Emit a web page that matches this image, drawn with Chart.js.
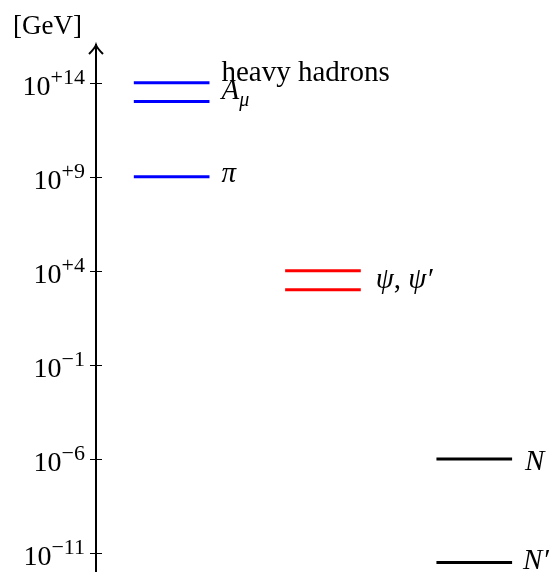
<!DOCTYPE html>
<html>
<head>
<meta charset="utf-8">
<script src="https://cdn.jsdelivr.net/npm/chart.js@4"></script>
<style>
  body { margin: 0; background: #fff; }
</style>
</head>
<body>
<canvas id="levels" width="559" height="572"></canvas>
<script>
// Mass levels (GeV)
const levelNames = ['heavy hadrons', 'A_mu', 'pi', 'psi', 'psi prime', 'N', 'N prime'];
const levelMasses = [1e14, 1e13, 1e9, 1e4, 1e3, 1e-6, 3.2e-12];
const levelColumns = [0, 0, 0, 1, 1, 2, 2];
const columnColors = ['#0000ff', '#ff0000', '#000000'];
const tickExponents = [14, 9, 4, -1, -6, -11];

const FONT = '"Liberation Serif", "Times New Roman", serif';

// label text, drawn right of the segments (parts: [text, style])
const labels = [
    { at: [0], dx: 12, dy: -2, parts: [['heavy hadrons', 'rm']] },
    { at: [1], dx: 12, dy: -2, parts: [['A', 'it'], ['\u03bc', 'sub']] },
    { at: [2], dx: 12, dy: 5, parts: [['\u03c0', 'it']] },
    { at: [3, 4], dx: 15, dy: 8, parts: [['\u03c8', 'it'], [', ', 'rm'], ['\u03c8\u2032', 'it']] },
    { at: [5], dx: 13, dy: 11, parts: [['N', 'it']] },
    { at: [6], dx: 11, dy: 7, parts: [['N\u2032', 'it']] }
];

const datasets = levelNames.map((name, i) => ({
    label: name,
    data: [
        { x: levelColumns[i] + 0.25, y: levelMasses[i] },
        { x: levelColumns[i] + 0.75, y: levelMasses[i] }
    ],
    showLine: true,
    borderColor: columnColors[levelColumns[i]],
    borderWidth: 3,
    pointRadius: 0
}));

function drawParts(ctx, parts, x, y, size) {
    size = size || 29;
    parts.forEach(([txt, style]) => {
        let s = size, yy = y;
        let face = style === 'rm' ? '' : 'italic ';
        if (style === 'sub') { s = 20; yy = y + 7; }
        if (style === 'sup') { s = 22; yy = y - 11; face = ''; }
        ctx.font = face + s + 'px ' + FONT;
        ctx.fillText(txt, x, yy);
        x += ctx.measureText(txt).width;
    });
}

const decorations = {
    id: 'decorations',
    afterDraw(chart) {
        const ctx = chart.ctx;
        const ys = chart.scales.y, xs = chart.scales.x;
        const axisX = chart.chartArea.left;
        ctx.save();
        ctx.fillStyle = '#000';
        ctx.strokeStyle = '#000';
        ctx.textBaseline = 'alphabetic';

        // arrow head on top of the axis
        const top = chart.chartArea.top;
        ctx.lineWidth = 2;
        ctx.beginPath();
        ctx.moveTo(axisX - 7, top + 9);
        ctx.quadraticCurveTo(axisX - 1, top + 3, axisX, top);
        ctx.quadraticCurveTo(axisX + 1, top + 3, axisX + 7, top + 9);
        ctx.stroke();

        // tick marks and labels
        ctx.lineWidth = 1;
        tickExponents.forEach(e => {
            const y = Math.round(ys.getPixelForValue(Math.pow(10, e))) + 0.5;
            ctx.beginPath();
            ctx.moveTo(axisX - 6, y);
            ctx.lineTo(axisX + 6, y);
            ctx.stroke();
            const exp = (e >= 0 ? '+' : '\u2212') + Math.abs(e);
            ctx.font = '22px ' + FONT;
            const ew = ctx.measureText(exp).width;
            ctx.font = '28px ' + FONT;
            const bw = ctx.measureText('10').width;
            const right = axisX - 10;
            drawParts(ctx, [['10', 'rm'], [exp, 'sup']], right - ew - bw - 1, y + 11, 28);
        });

        // unit
        ctx.font = '27px ' + FONT;
        ctx.fillText('[GeV]', 13, 34);

        // level labels
        labels.forEach(l => {
            const ymid = l.at.map(i => ys.getPixelForValue(levelMasses[i]))
                .reduce((a, b) => a + b, 0) / l.at.length;
            const x = xs.getPixelForValue(levelColumns[l.at[0]] + 0.75) + l.dx;
            drawParts(ctx, l.parts, x, ymid + l.dy);
        });
        ctx.restore();
    }
};

new Chart(document.getElementById('levels').getContext('2d'), {
    type: 'scatter',
    data: { datasets },
    options: {
        responsive: false,
        animation: false,
        devicePixelRatio: 1,
        layout: { padding: { top: 45, left: 0, right: 0, bottom: 0 } },
        plugins: { legend: { display: false }, tooltip: { enabled: false } },
        scales: {
            x: { type: 'linear', display: false, min: 0, max: 3.06 },
            y: {
                type: 'logarithmic',
                min: 1e-12,
                max: 1e16,
                afterFit(scale) { scale.width = 96; },
                afterBuildTicks(scale) {
                    scale.ticks = tickExponents.map(e => ({ value: Math.pow(10, e) }));
                },
                ticks: { display: false },
                grid: { display: false },
                border: { display: true, color: '#000', width: 2 }
            }
        }
    },
    plugins: [decorations]
});
</script>
</body>
</html>
